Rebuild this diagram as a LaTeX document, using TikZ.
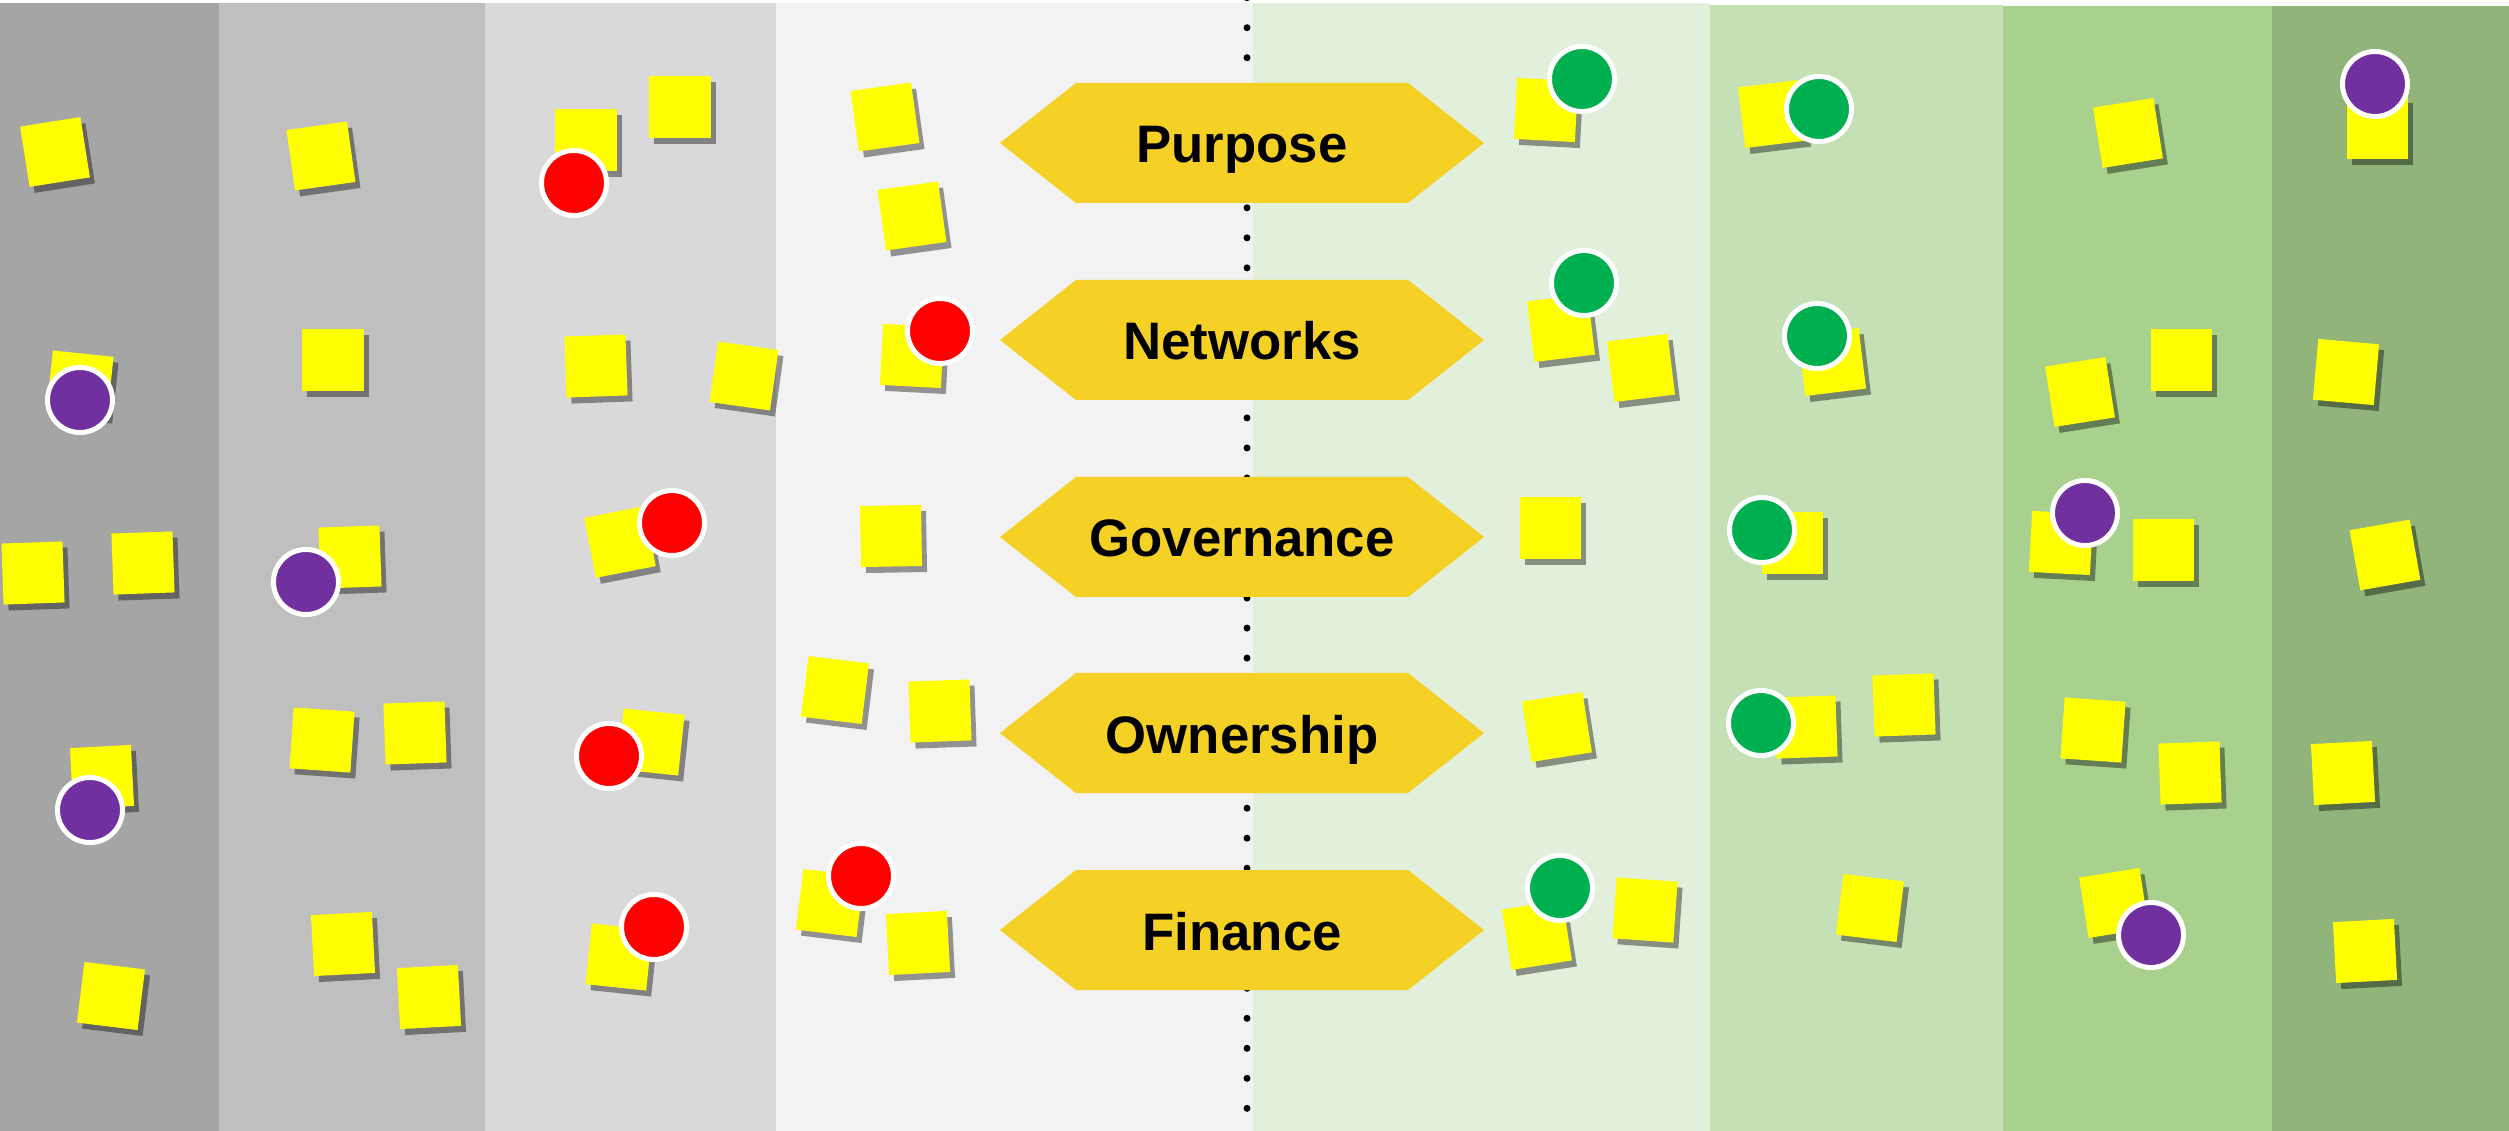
\documentclass[tikz,border=0pt]{standalone}
\usepackage{fontspec}
\setmainfont{Liberation Sans}
\usetikzlibrary{shadows}

\definecolor{bandA}{HTML}{A5A5A5}
\definecolor{bandB}{HTML}{BFBFBF}
\definecolor{bandC}{HTML}{D9D9D9}
\definecolor{bandD}{HTML}{F2F2F2}
\definecolor{bandE}{HTML}{E2EFDA}
\definecolor{bandF}{HTML}{C5E0B4}
\definecolor{bandG}{HTML}{A9D18E}
\definecolor{bandH}{HTML}{90B47A}
\definecolor{themegold}{HTML}{F4D124}
\definecolor{noteyellow}{HTML}{FFFF00}
\definecolor{votered}{HTML}{FF0000}
\definecolor{votegreen}{HTML}{00B050}
\definecolor{votepurple}{HTML}{7030A0}

\begin{document}
\begin{tikzpicture}
[x=0.01cm, y=-0.01cm,
 sticky/.style={fill=noteyellow, minimum size=0.61cm, inner sep=0pt,
   drop shadow={shadow xshift=0.05cm, shadow yshift=-0.06cm, fill=black, opacity=0.4}},
 vote/.style={circle, draw=white, line width=0.05cm, minimum size=0.65cm, inner sep=0pt},
 theme/.style={font=\bfseries\fontsize{15}{18}\selectfont, inner sep=0pt, anchor=base},
 hexa/.style={fill=themegold},
]

\useasboundingbox (0,0) rectangle (2509,1131);
\fill[white] (0,0) rectangle (2509,1131);

%bands
\fill[bandA] (0,3) rectangle (219,1131);
\fill[bandB] (219,3) rectangle (485,1131);
\fill[bandC] (485,3) rectangle (776,1131);
\fill[bandD] (776,3) rectangle (1253,1131);
\fill[bandE] (1253,3) rectangle (1710,1131);
\fill[bandF] (1710,5) rectangle (2003,1131);
\fill[bandG] (2003,6) rectangle (2272,1131);
\fill[bandH] (2272,6) rectangle (2509,1131);

%divider
\coordinate (divtop) at (1247,-2.3);
\coordinate (divbot) at (1247,1131);
\draw[line width=0.07cm, line cap=round, dash pattern=on 0cm off 0.3cm] (divtop) -- (divbot);

%themes
\foreach \lab/\yy [count=\i] in {Purpose/143, Networks/340, Governance/537, Ownership/733, Finance/930}{
  \fill[hexa] (1000,\yy) -- (1076,\yy-60) -- (1408,\yy-60) -- (1484,\yy) -- (1408,\yy+60) -- (1076,\yy+60) -- cycle;
  \node[theme] (theme\i) at (1242,\yy+20) {\lab};
}

%band 1
\node[sticky, rotate=9]  (s1a) at (55,152)  {};
\node[sticky, rotate=-6] (s1b) at (80,384)  {};
\node[vote, fill=votepurple] (v1b) at (80,400) {};
\node[sticky, rotate=2]  (s1c) at (33,573)  {};
\node[sticky, rotate=2]  (s1d) at (143,563) {};
\node[sticky, rotate=3]  (s1e) at (102,777) {};
\node[vote, fill=votepurple] (v1e) at (90,810) {};
\node[sticky, rotate=-7] (s1f) at (111,996) {};

%band 2
\node[sticky, rotate=8]  (s2a) at (321,156) {};
\node[sticky]            (s2b) at (333,360) {};
\node[sticky, rotate=2]  (s2c) at (350,557) {};
\node[vote, fill=votepurple] (v2c) at (306,582) {};
\node[sticky, rotate=-4] (s2d) at (322,740) {};
\node[sticky, rotate=2]  (s2e) at (415,733) {};
\node[sticky, rotate=3]  (s2f) at (343,944) {};
\node[sticky, rotate=3]  (s2g) at (429,997) {};

%band 3
\node[sticky]            (s3a) at (586,140) {};
\node[vote, fill=votered] (v3a) at (574,183) {};
\node[sticky]            (s3b) at (680,107) {};
\node[sticky, rotate=2]  (s3c) at (596,366) {};
\node[sticky, rotate=-8] (s3d) at (744,376) {};
\node[sticky, rotate=11] (s3e) at (620,542) {};
\node[vote, fill=votered] (v3e) at (672,523) {};
\node[sticky, rotate=-6] (s3f) at (651,742) {};
\node[vote, fill=votered] (v3f) at (609,756) {};
\node[sticky, rotate=-6] (s3g) at (619,957) {};
\node[vote, fill=votered] (v3g) at (654,927) {};

%band 4
\node[sticky, rotate=8]  (s4a) at (885,117) {};
\node[sticky, rotate=8]  (s4b) at (912,216) {};
\node[sticky, rotate=-3] (s4c) at (912,356) {};
\node[vote, fill=votered] (v4c) at (940,331) {};
\node[sticky, rotate=1]  (s4d) at (891,536) {};
\node[sticky, rotate=-7] (s4e) at (835,690) {};
\node[sticky, rotate=2]  (s4f) at (940,711) {};
\node[sticky, rotate=-7] (s4g) at (830,903) {};
\node[vote, fill=votered] (v4g) at (861,876) {};
\node[sticky, rotate=3]  (s4h) at (918,943) {};

%band 5
\node[sticky, rotate=-3] (s5a) at (1546,110) {};
\node[vote, fill=votegreen] (v5a) at (1582,79) {};
\node[sticky, rotate=7]  (s5b) at (1561,328) {};
\node[vote, fill=votegreen] (v5b) at (1584,283) {};
\node[sticky, rotate=7]  (s5c) at (1641,368) {};
\node[sticky]            (s5d) at (1550,528) {};
\node[sticky, rotate=9]  (s5e) at (1557,727) {};
\node[sticky, rotate=9]  (s5f) at (1537,935) {};
\node[vote, fill=votegreen] (v5f) at (1560,888) {};
\node[sticky, rotate=-4] (s5g) at (1645,910) {};

%band 6
\node[sticky, rotate=7]  (s6a) at (1772,114) {};
\node[vote, fill=votegreen] (v6a) at (1819,109) {};
\node[sticky, rotate=7]  (s6b) at (1832,362) {};
\node[vote, fill=votegreen] (v6b) at (1817,336) {};
\node[sticky]            (s6c) at (1792,543) {};
\node[vote, fill=votegreen] (v6c) at (1762,530) {};
\node[sticky, rotate=2]  (s6d) at (1806,727) {};
\node[vote, fill=votegreen] (v6d) at (1761,723) {};
\node[sticky, rotate=2]  (s6e) at (1904,705) {};
\node[sticky, rotate=-7] (s6f) at (1870,908) {};

%band 7
\node[sticky, rotate=9]  (s7a) at (2128,133) {};
\node[sticky, rotate=9]  (s7b) at (2080,392) {};
\node[sticky]            (s7c) at (2181,360) {};
\node[sticky, rotate=-3] (s7d) at (2061,543) {};
\node[vote, fill=votepurple] (v7d) at (2085,513) {};
\node[sticky]            (s7e) at (2163,550) {};
\node[sticky, rotate=-4] (s7f) at (2093,730) {};
\node[sticky, rotate=2]  (s7g) at (2190,773) {};
\node[sticky, rotate=9]  (s7h) at (2114,903) {};
\node[vote, fill=votepurple] (v7h) at (2151,935) {};

%band 8
\node[sticky]            (s8a) at (2377,128) {};
\node[vote, fill=votepurple] (v8a) at (2375,84) {};
\node[sticky, rotate=-5] (s8b) at (2346,372) {};
\node[sticky, rotate=10] (s8c) at (2385,555) {};
\node[sticky, rotate=3]  (s8d) at (2343,773) {};
\node[sticky, rotate=3]  (s8e) at (2365,951) {};

\end{tikzpicture}
\end{document}
